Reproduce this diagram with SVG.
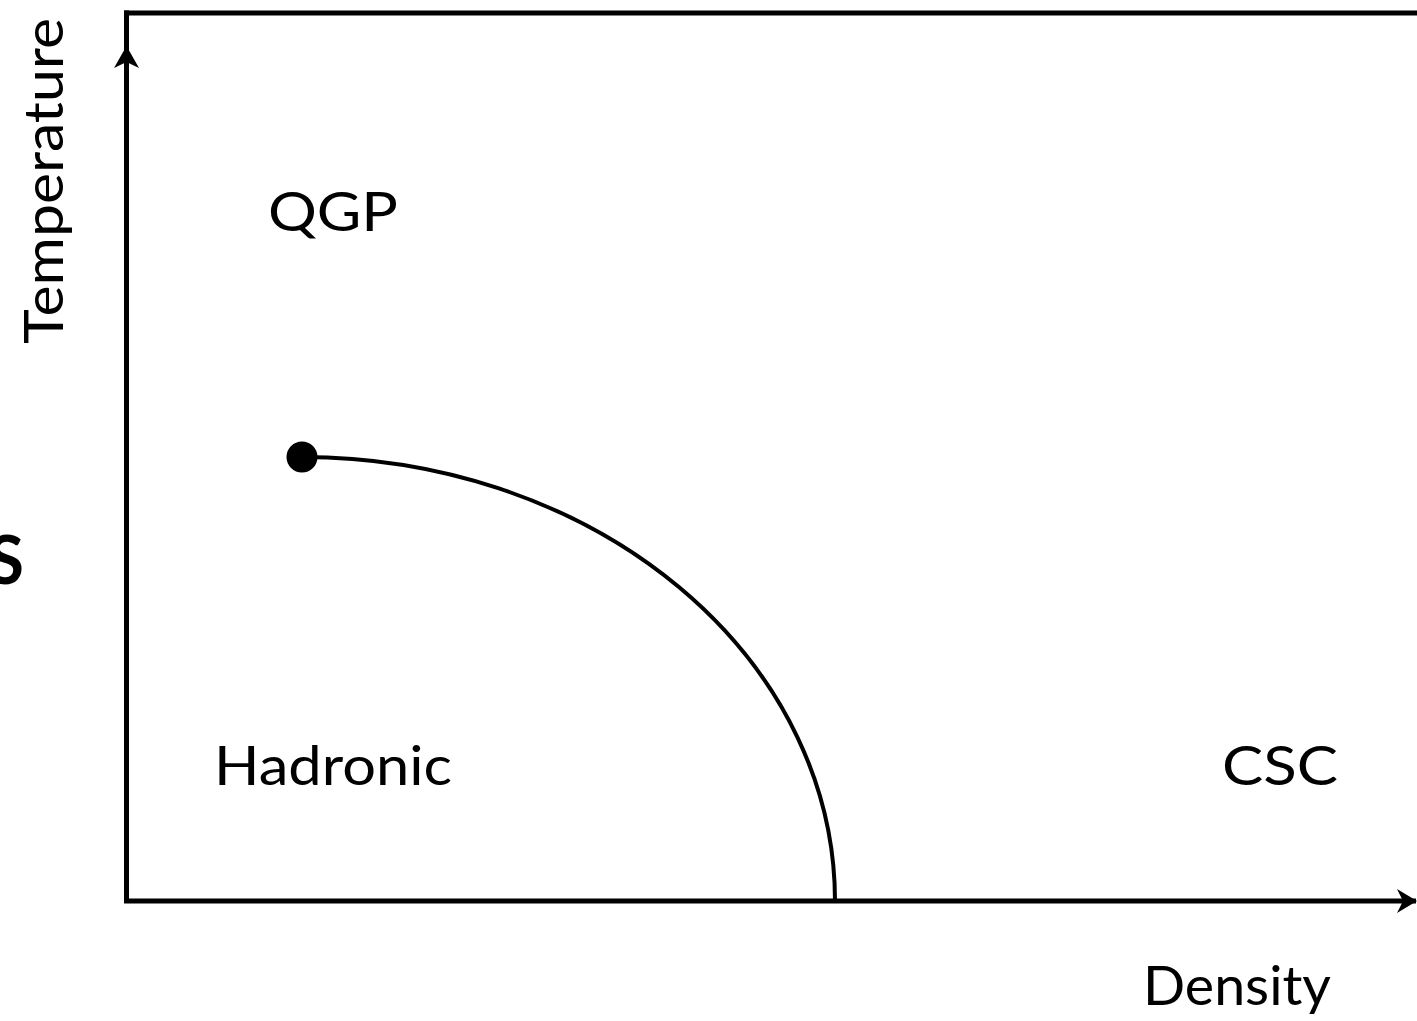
<svg xmlns="http://www.w3.org/2000/svg" width="1417" height="1021" viewBox="0 0 1417 1021">
<style>
.lbl{font-family:Lato,"Open Sans","Liberation Sans",sans-serif;font-size:55px;fill:#000}
.ax{stroke:#000;stroke-width:5;fill:none}
</style>
<defs>
<marker id="ah" viewBox="0 0 20 24" refX="19" refY="12" markerWidth="20" markerHeight="24" markerUnits="userSpaceOnUse" orient="auto">
<path d="M0,0 L20,12 L0,24 L6,12 Z" fill="#000"/>
</marker>
</defs>
<rect width="1417" height="1021" fill="#fff"/>
<g id="connectors">
<line class="ax" x1="124" y1="13" x2="1417" y2="13"/>
<line class="ax" x1="126.5" y1="903" x2="126.5" y2="10.5"/>
<path d="M126.5,46 L139,68 L126.5,62 L114,68 Z" fill="#000"/>
<line class="ax" x1="124" y1="901" x2="1416" y2="901" marker-end="url(#ah)"/>
<path d="M302,457 A533,444 0 0 1 835,901" stroke="#000" stroke-width="4" fill="none"/>
</g>
<g id="critical-point"><circle cx="302" cy="457" r="15.5" fill="#000"/></g>
<g id="qgp"><text class="lbl" x="268" y="231" textLength="130" lengthAdjust="spacingAndGlyphs">QGP</text></g>
<g id="hadronic"><text class="lbl" x="214" y="785" textLength="238" lengthAdjust="spacingAndGlyphs">Hadronic</text></g>
<g id="csc"><text class="lbl" x="1222" y="785" textLength="116" lengthAdjust="spacingAndGlyphs">CSC</text></g>
<g id="density"><text class="lbl" x="1143" y="1005" textLength="188" lengthAdjust="spacingAndGlyphs">Density</text></g>
<g id="temperature"><text class="lbl" transform="translate(63,344) rotate(-90)" textLength="326" lengthAdjust="spacingAndGlyphs">Temperature</text></g>
<g id="cut"><text x="24" y="584" text-anchor="end" style="font-family:Lato,'Liberation Sans',sans-serif;font-weight:bold;font-size:66px">S</text></g>
</svg>
